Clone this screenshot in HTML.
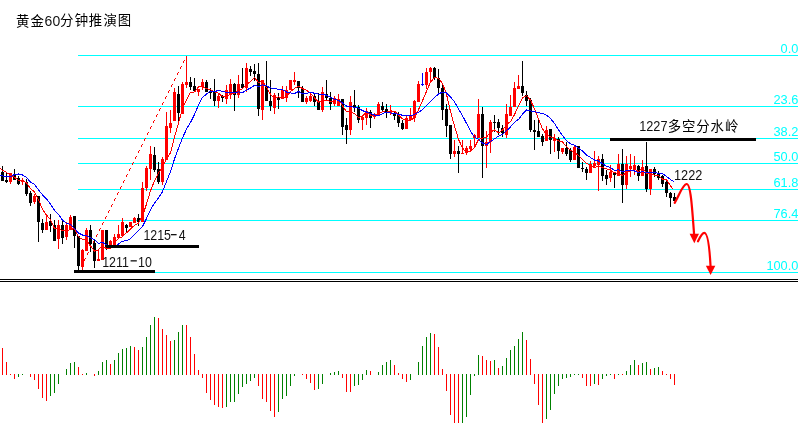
<!DOCTYPE html>
<html><head><meta charset="utf-8"><title>黄金60分钟推演图</title>
<style>html,body{margin:0;padding:0;background:#fff;overflow:hidden}svg{display:block}body{font-family:"Liberation Sans",sans-serif}</style>
</head><body>
<svg width="798" height="423" viewBox="0 0 798 423" role="img" aria-label="黄金60分钟推演图 1227多空分水岭">
<rect width="798" height="423" fill="#fff"/>
<g fill="#00ffff" shape-rendering="crispEdges">
<rect x="78" y="55" width="720" height="1"/>
<rect x="78" y="106" width="720" height="1"/>
<rect x="78" y="138" width="720" height="1"/>
<rect x="78" y="163" width="720" height="1"/>
<rect x="78" y="189" width="720" height="1"/>
<rect x="78" y="220" width="720" height="1"/>
<rect x="78" y="272" width="720" height="1"/>
</g>
<g fill="#00ffff" font-family="'Liberation Sans', sans-serif" font-size="13px" text-anchor="end" style="will-change:transform">
<text transform="translate(798.4,53) scale(0.985,1.05)">0.0</text>
<text transform="translate(798.4,104) scale(0.985,1.05)">23.6</text>
<text transform="translate(798.4,136) scale(0.985,1.05)">38.2</text>
<text transform="translate(798.4,161) scale(0.985,1.05)">50.0</text>
<text transform="translate(798.4,187) scale(0.985,1.05)">61.8</text>
<text transform="translate(798.4,218) scale(0.985,1.05)">76.4</text>
<text transform="translate(798.4,270) scale(0.985,1.05)">100.0</text>
</g>
<g fill="#000" shape-rendering="crispEdges"><rect x="0" y="279" width="798" height="1"/><rect x="0" y="281" width="798" height="1"/></g>
<g fill="#ff0000" shape-rendering="crispEdges"><rect x="186" y="56" width="1" height="1"/><rect x="184" y="60" width="1" height="1"/><rect x="183" y="61" width="1" height="1"/><rect x="183" y="62" width="1" height="1"/><rect x="181" y="66" width="1" height="1"/><rect x="180" y="67" width="1" height="1"/><rect x="180" y="68" width="1" height="1"/><rect x="178" y="72" width="1" height="1"/><rect x="177" y="73" width="1" height="1"/><rect x="177" y="74" width="1" height="1"/><rect x="175" y="78" width="1" height="1"/><rect x="174" y="79" width="1" height="1"/><rect x="174" y="80" width="1" height="1"/><rect x="172" y="84" width="1" height="1"/><rect x="171" y="85" width="1" height="1"/><rect x="171" y="86" width="1" height="1"/><rect x="169" y="90" width="1" height="1"/><rect x="168" y="91" width="1" height="1"/><rect x="168" y="92" width="1" height="1"/><rect x="166" y="96" width="1" height="1"/><rect x="165" y="97" width="1" height="1"/><rect x="165" y="98" width="1" height="1"/><rect x="163" y="102" width="1" height="1"/><rect x="162" y="103" width="1" height="1"/><rect x="162" y="104" width="1" height="1"/><rect x="160" y="108" width="1" height="1"/><rect x="159" y="109" width="1" height="1"/><rect x="159" y="110" width="1" height="1"/><rect x="157" y="114" width="1" height="1"/><rect x="156" y="115" width="1" height="1"/><rect x="156" y="116" width="1" height="1"/><rect x="154" y="120" width="1" height="1"/><rect x="153" y="121" width="1" height="1"/><rect x="153" y="122" width="1" height="1"/><rect x="151" y="126" width="1" height="1"/><rect x="150" y="127" width="1" height="1"/><rect x="150" y="128" width="1" height="1"/><rect x="148" y="132" width="1" height="1"/><rect x="147" y="133" width="1" height="1"/><rect x="147" y="134" width="1" height="1"/><rect x="145" y="138" width="1" height="1"/><rect x="144" y="139" width="1" height="1"/><rect x="144" y="140" width="1" height="1"/><rect x="142" y="144" width="1" height="1"/><rect x="141" y="145" width="1" height="1"/><rect x="141" y="146" width="1" height="1"/><rect x="139" y="150" width="1" height="1"/><rect x="138" y="151" width="1" height="1"/><rect x="138" y="152" width="1" height="1"/><rect x="136" y="156" width="1" height="1"/><rect x="135" y="157" width="1" height="1"/><rect x="135" y="158" width="1" height="1"/><rect x="133" y="162" width="1" height="1"/><rect x="132" y="163" width="1" height="1"/><rect x="132" y="164" width="1" height="1"/><rect x="130" y="168" width="1" height="1"/><rect x="129" y="169" width="1" height="1"/><rect x="129" y="170" width="1" height="1"/><rect x="127" y="174" width="1" height="1"/><rect x="126" y="175" width="1" height="1"/><rect x="126" y="176" width="1" height="1"/><rect x="124" y="180" width="1" height="1"/><rect x="123" y="181" width="1" height="1"/><rect x="123" y="182" width="1" height="1"/><rect x="121" y="186" width="1" height="1"/><rect x="120" y="187" width="1" height="1"/><rect x="120" y="188" width="1" height="1"/><rect x="118" y="192" width="1" height="1"/><rect x="117" y="193" width="1" height="1"/><rect x="117" y="194" width="1" height="1"/><rect x="115" y="198" width="1" height="1"/><rect x="114" y="199" width="1" height="1"/><rect x="114" y="200" width="1" height="1"/><rect x="112" y="204" width="1" height="1"/><rect x="111" y="205" width="1" height="1"/><rect x="111" y="206" width="1" height="1"/><rect x="109" y="210" width="1" height="1"/><rect x="108" y="211" width="1" height="1"/><rect x="108" y="212" width="1" height="1"/><rect x="106" y="216" width="1" height="1"/><rect x="105" y="217" width="1" height="1"/><rect x="105" y="218" width="1" height="1"/><rect x="103" y="222" width="1" height="1"/><rect x="102" y="223" width="1" height="1"/><rect x="102" y="224" width="1" height="1"/><rect x="100" y="228" width="1" height="1"/><rect x="99" y="229" width="1" height="1"/><rect x="99" y="230" width="1" height="1"/><rect x="97" y="234" width="1" height="1"/><rect x="96" y="235" width="1" height="1"/><rect x="96" y="236" width="1" height="1"/><rect x="94" y="240" width="1" height="1"/><rect x="93" y="241" width="1" height="1"/><rect x="93" y="242" width="1" height="1"/><rect x="91" y="246" width="1" height="1"/><rect x="90" y="247" width="1" height="1"/><rect x="90" y="248" width="1" height="1"/><rect x="88" y="252" width="1" height="1"/><rect x="87" y="253" width="1" height="1"/><rect x="87" y="254" width="1" height="1"/><rect x="85" y="258" width="1" height="1"/><rect x="84" y="259" width="1" height="1"/><rect x="84" y="260" width="1" height="1"/><rect x="82" y="264" width="1" height="1"/><rect x="81" y="265" width="1" height="1"/><rect x="81" y="266" width="1" height="1"/><rect x="79" y="270" width="1" height="1"/><rect x="78" y="271" width="1" height="1"/></g>
<g shape-rendering="crispEdges"><g fill="#000"><rect x="2" y="166" width="1" height="15"/><rect x="1" y="172" width="3" height="9"/><rect x="6" y="173" width="1" height="10"/><rect x="5" y="180" width="3" height="2"/><rect x="14" y="169" width="1" height="11"/><rect x="13" y="174" width="3" height="6"/><rect x="18" y="176" width="1" height="9"/><rect x="17" y="178" width="3" height="6"/><rect x="26" y="179" width="1" height="17"/><rect x="25" y="182" width="3" height="12"/><rect x="30" y="191" width="1" height="15"/><rect x="29" y="193" width="3" height="10"/><rect x="38" y="196" width="1" height="46"/><rect x="37" y="196" width="3" height="26"/><rect x="42" y="219" width="1" height="14"/><rect x="41" y="223" width="3" height="7"/><rect x="50" y="214" width="1" height="18"/><rect x="49" y="221" width="3" height="5"/><rect x="54" y="220" width="1" height="21"/><rect x="53" y="225" width="3" height="16"/><rect x="62" y="220" width="1" height="24"/><rect x="61" y="225" width="3" height="13"/><rect x="74" y="216" width="1" height="32"/><rect x="73" y="216" width="3" height="20"/><rect x="78" y="236" width="1" height="34"/><rect x="77" y="236" width="3" height="30"/><rect x="90" y="225" width="1" height="27"/><rect x="89" y="230" width="3" height="14"/><rect x="94" y="240" width="1" height="28"/><rect x="93" y="243" width="3" height="18"/><rect x="106" y="230" width="1" height="20"/><rect x="105" y="230" width="3" height="17"/><rect x="126" y="224" width="1" height="9"/><rect x="125" y="225" width="3" height="3"/><rect x="138" y="214" width="1" height="12"/><rect x="137" y="218" width="3" height="4"/><rect x="154" y="147" width="1" height="25"/><rect x="153" y="155" width="3" height="15"/><rect x="158" y="162" width="1" height="22"/><rect x="157" y="169" width="3" height="13"/><rect x="178" y="86" width="1" height="36"/><rect x="177" y="94" width="3" height="19"/><rect x="190" y="77" width="1" height="13"/><rect x="189" y="82" width="3" height="5"/><rect x="194" y="78" width="1" height="13"/><rect x="193" y="86" width="3" height="5"/><rect x="206" y="80" width="1" height="12"/><rect x="205" y="82" width="3" height="10"/><rect x="210" y="88" width="1" height="11"/><rect x="209" y="91" width="3" height="2"/><rect x="214" y="79" width="1" height="27"/><rect x="213" y="91" width="3" height="10"/><rect x="222" y="95" width="1" height="7"/><rect x="221" y="96" width="3" height="2"/><rect x="234" y="83" width="1" height="28"/><rect x="233" y="84" width="3" height="11"/><rect x="242" y="68" width="1" height="20"/><rect x="241" y="84" width="3" height="4"/><rect x="250" y="66" width="1" height="10"/><rect x="249" y="69" width="3" height="3"/><rect x="254" y="64" width="1" height="17"/><rect x="253" y="71" width="3" height="3"/><rect x="258" y="63" width="1" height="53"/><rect x="257" y="74" width="3" height="35"/><rect x="266" y="61" width="1" height="40"/><rect x="265" y="86" width="3" height="15"/><rect x="270" y="80" width="1" height="31"/><rect x="269" y="101" width="3" height="5"/><rect x="278" y="93" width="1" height="16"/><rect x="277" y="97" width="3" height="3"/><rect x="298" y="81" width="1" height="17"/><rect x="297" y="81" width="3" height="7"/><rect x="302" y="86" width="1" height="16"/><rect x="301" y="88" width="3" height="14"/><rect x="314" y="94" width="1" height="12"/><rect x="313" y="96" width="3" height="6"/><rect x="318" y="93" width="1" height="17"/><rect x="317" y="102" width="3" height="8"/><rect x="326" y="80" width="1" height="20"/><rect x="325" y="94" width="3" height="4"/><rect x="330" y="92" width="1" height="18"/><rect x="329" y="98" width="3" height="6"/><rect x="342" y="99" width="1" height="36"/><rect x="341" y="99" width="3" height="28"/><rect x="346" y="118" width="1" height="26"/><rect x="345" y="125" width="3" height="5"/><rect x="354" y="90" width="1" height="22"/><rect x="353" y="105" width="3" height="3"/><rect x="358" y="105" width="1" height="18"/><rect x="357" y="107" width="3" height="13"/><rect x="370" y="110" width="1" height="18"/><rect x="369" y="112" width="3" height="6"/><rect x="382" y="102" width="1" height="10"/><rect x="381" y="106" width="3" height="4"/><rect x="386" y="104" width="1" height="14"/><rect x="385" y="109" width="3" height="4"/><rect x="394" y="112" width="1" height="8"/><rect x="393" y="113" width="3" height="3"/><rect x="398" y="112" width="1" height="15"/><rect x="397" y="115" width="3" height="8"/><rect x="402" y="120" width="1" height="10"/><rect x="401" y="123" width="3" height="6"/><rect x="434" y="67" width="1" height="13"/><rect x="433" y="68" width="3" height="10"/><rect x="438" y="69" width="1" height="24"/><rect x="437" y="78" width="3" height="10"/><rect x="442" y="85" width="1" height="35"/><rect x="441" y="88" width="3" height="22"/><rect x="446" y="104" width="1" height="33"/><rect x="445" y="109" width="3" height="17"/><rect x="450" y="125" width="1" height="34"/><rect x="449" y="125" width="3" height="29"/><rect x="458" y="146" width="1" height="27"/><rect x="457" y="151" width="3" height="3"/><rect x="482" y="107" width="1" height="71"/><rect x="481" y="114" width="3" height="32"/><rect x="494" y="115" width="1" height="17"/><rect x="493" y="122" width="3" height="1"/><rect x="498" y="119" width="1" height="16"/><rect x="497" y="122" width="3" height="6"/><rect x="502" y="125" width="1" height="12"/><rect x="501" y="128" width="3" height="5"/><rect x="522" y="61" width="1" height="35"/><rect x="521" y="86" width="3" height="7"/><rect x="526" y="91" width="1" height="15"/><rect x="525" y="95" width="3" height="6"/><rect x="530" y="98" width="1" height="34"/><rect x="529" y="100" width="3" height="30"/><rect x="534" y="120" width="1" height="30"/><rect x="533" y="130" width="3" height="2"/><rect x="538" y="120" width="1" height="17"/><rect x="537" y="131" width="3" height="6"/><rect x="542" y="134" width="1" height="12"/><rect x="541" y="136" width="3" height="6"/><rect x="550" y="129" width="1" height="25"/><rect x="549" y="129" width="3" height="11"/><rect x="558" y="137" width="1" height="22"/><rect x="557" y="139" width="3" height="12"/><rect x="566" y="142" width="1" height="14"/><rect x="565" y="148" width="3" height="6"/><rect x="570" y="148" width="1" height="14"/><rect x="569" y="150" width="3" height="10"/><rect x="578" y="146" width="1" height="22"/><rect x="577" y="146" width="3" height="22"/><rect x="582" y="162" width="1" height="10"/><rect x="581" y="168" width="3" height="1"/><rect x="586" y="167" width="1" height="13"/><rect x="585" y="169" width="3" height="4"/><rect x="602" y="154" width="1" height="27"/><rect x="601" y="159" width="3" height="17"/><rect x="606" y="170" width="1" height="15"/><rect x="605" y="175" width="3" height="4"/><rect x="614" y="172" width="1" height="16"/><rect x="613" y="173" width="3" height="2"/><rect x="622" y="149" width="1" height="54"/><rect x="621" y="164" width="3" height="21"/><rect x="638" y="165" width="1" height="16"/><rect x="637" y="166" width="3" height="10"/><rect x="646" y="142" width="1" height="50"/><rect x="645" y="166" width="3" height="23"/><rect x="654" y="167" width="1" height="10"/><rect x="653" y="169" width="3" height="5"/><rect x="658" y="171" width="1" height="9"/><rect x="657" y="174" width="3" height="4"/><rect x="662" y="175" width="1" height="12"/><rect x="661" y="176" width="3" height="8"/><rect x="666" y="180" width="1" height="17"/><rect x="665" y="182" width="3" height="11"/><rect x="670" y="192" width="1" height="15"/><rect x="669" y="193" width="3" height="5"/><rect x="674" y="193" width="1" height="8"/><rect x="673" y="197" width="3" height="4"/></g><g fill="#ff0000"><rect x="10" y="173" width="1" height="11"/><rect x="9" y="173" width="3" height="9"/><rect x="22" y="178" width="1" height="7"/><rect x="21" y="180" width="3" height="2"/><rect x="34" y="194" width="1" height="10"/><rect x="33" y="196" width="3" height="6"/><rect x="46" y="216" width="1" height="14"/><rect x="45" y="222" width="3" height="8"/><rect x="58" y="220" width="1" height="29"/><rect x="57" y="225" width="3" height="14"/><rect x="66" y="222" width="1" height="18"/><rect x="65" y="225" width="3" height="12"/><rect x="70" y="215" width="1" height="14"/><rect x="69" y="217" width="3" height="12"/><rect x="82" y="249" width="1" height="21"/><rect x="81" y="250" width="3" height="17"/><rect x="86" y="228" width="1" height="23"/><rect x="85" y="230" width="3" height="21"/><rect x="98" y="250" width="1" height="11"/><rect x="97" y="259" width="3" height="2"/><rect x="102" y="230" width="1" height="30"/><rect x="101" y="230" width="3" height="30"/><rect x="110" y="240" width="1" height="5"/><rect x="109" y="241" width="3" height="4"/><rect x="114" y="234" width="1" height="11"/><rect x="113" y="237" width="3" height="8"/><rect x="118" y="225" width="1" height="13"/><rect x="117" y="234" width="3" height="4"/><rect x="122" y="218" width="1" height="18"/><rect x="121" y="222" width="3" height="14"/><rect x="130" y="222" width="1" height="5"/><rect x="129" y="222" width="3" height="5"/><rect x="134" y="217" width="1" height="6"/><rect x="133" y="218" width="3" height="5"/><rect x="142" y="182" width="1" height="40"/><rect x="141" y="188" width="3" height="34"/><rect x="146" y="166" width="1" height="25"/><rect x="145" y="168" width="3" height="20"/><rect x="150" y="146" width="1" height="34"/><rect x="149" y="154" width="3" height="15"/><rect x="162" y="157" width="1" height="28"/><rect x="161" y="159" width="3" height="23"/><rect x="166" y="112" width="1" height="48"/><rect x="165" y="126" width="3" height="34"/><rect x="170" y="110" width="1" height="23"/><rect x="169" y="123" width="3" height="5"/><rect x="174" y="88" width="1" height="33"/><rect x="173" y="92" width="3" height="29"/><rect x="182" y="82" width="1" height="32"/><rect x="181" y="84" width="3" height="30"/><rect x="186" y="56" width="1" height="32"/><rect x="185" y="82" width="3" height="3"/><rect x="198" y="89" width="1" height="7"/><rect x="197" y="89" width="3" height="3"/><rect x="202" y="79" width="1" height="11"/><rect x="201" y="82" width="3" height="5"/><rect x="218" y="94" width="1" height="14"/><rect x="217" y="96" width="3" height="5"/><rect x="226" y="85" width="1" height="19"/><rect x="225" y="90" width="3" height="9"/><rect x="230" y="79" width="1" height="20"/><rect x="229" y="84" width="3" height="11"/><rect x="238" y="75" width="1" height="23"/><rect x="237" y="84" width="3" height="11"/><rect x="246" y="63" width="1" height="29"/><rect x="245" y="68" width="3" height="20"/><rect x="262" y="80" width="1" height="40"/><rect x="261" y="80" width="3" height="30"/><rect x="274" y="93" width="1" height="21"/><rect x="273" y="95" width="3" height="13"/><rect x="282" y="86" width="1" height="13"/><rect x="281" y="90" width="3" height="9"/><rect x="286" y="86" width="1" height="16"/><rect x="285" y="90" width="3" height="8"/><rect x="290" y="80" width="1" height="10"/><rect x="289" y="80" width="3" height="10"/><rect x="294" y="72" width="1" height="13"/><rect x="293" y="80" width="3" height="2"/><rect x="306" y="96" width="1" height="8"/><rect x="305" y="98" width="3" height="4"/><rect x="310" y="94" width="1" height="8"/><rect x="309" y="96" width="3" height="5"/><rect x="322" y="87" width="1" height="25"/><rect x="321" y="92" width="3" height="18"/><rect x="334" y="96" width="1" height="10"/><rect x="333" y="98" width="3" height="6"/><rect x="338" y="94" width="1" height="12"/><rect x="337" y="99" width="3" height="7"/><rect x="350" y="96" width="1" height="39"/><rect x="349" y="102" width="3" height="28"/><rect x="362" y="116" width="1" height="14"/><rect x="361" y="117" width="3" height="3"/><rect x="366" y="108" width="1" height="17"/><rect x="365" y="111" width="3" height="7"/><rect x="374" y="113" width="1" height="6"/><rect x="373" y="114" width="3" height="3"/><rect x="378" y="102" width="1" height="13"/><rect x="377" y="104" width="3" height="11"/><rect x="390" y="105" width="1" height="10"/><rect x="389" y="111" width="3" height="2"/><rect x="406" y="116" width="1" height="13"/><rect x="405" y="118" width="3" height="11"/><rect x="410" y="108" width="1" height="12"/><rect x="409" y="115" width="3" height="5"/><rect x="414" y="100" width="1" height="22"/><rect x="413" y="101" width="3" height="17"/><rect x="418" y="81" width="1" height="21"/><rect x="417" y="84" width="3" height="18"/><rect x="426" y="68" width="1" height="21"/><rect x="425" y="72" width="3" height="13"/><rect x="430" y="67" width="1" height="15"/><rect x="429" y="68" width="3" height="4"/><rect x="454" y="140" width="1" height="17"/><rect x="453" y="151" width="3" height="3"/><rect x="462" y="140" width="1" height="14"/><rect x="461" y="153" width="3" height="1"/><rect x="466" y="146" width="1" height="9"/><rect x="465" y="148" width="3" height="5"/><rect x="470" y="140" width="1" height="12"/><rect x="469" y="146" width="3" height="3"/><rect x="474" y="134" width="1" height="13"/><rect x="473" y="135" width="3" height="3"/><rect x="478" y="99" width="1" height="39"/><rect x="477" y="114" width="3" height="24"/><rect x="486" y="131" width="1" height="37"/><rect x="485" y="142" width="3" height="4"/><rect x="490" y="120" width="1" height="33"/><rect x="489" y="122" width="3" height="20"/><rect x="506" y="104" width="1" height="34"/><rect x="505" y="114" width="3" height="21"/><rect x="510" y="95" width="1" height="21"/><rect x="509" y="107" width="3" height="9"/><rect x="514" y="82" width="1" height="25"/><rect x="513" y="88" width="3" height="19"/><rect x="518" y="75" width="1" height="14"/><rect x="517" y="86" width="3" height="3"/><rect x="546" y="126" width="1" height="15"/><rect x="545" y="130" width="3" height="11"/><rect x="554" y="134" width="1" height="18"/><rect x="553" y="138" width="3" height="3"/><rect x="562" y="148" width="1" height="6"/><rect x="561" y="148" width="3" height="4"/><rect x="574" y="145" width="1" height="15"/><rect x="573" y="147" width="3" height="13"/><rect x="590" y="161" width="1" height="12"/><rect x="589" y="164" width="3" height="9"/><rect x="594" y="151" width="1" height="17"/><rect x="593" y="163" width="3" height="3"/><rect x="598" y="156" width="1" height="35"/><rect x="597" y="159" width="3" height="6"/><rect x="610" y="165" width="1" height="17"/><rect x="609" y="172" width="3" height="6"/><rect x="618" y="154" width="1" height="22"/><rect x="617" y="164" width="3" height="12"/><rect x="626" y="156" width="1" height="33"/><rect x="625" y="164" width="3" height="21"/><rect x="630" y="154" width="1" height="23"/><rect x="629" y="166" width="3" height="3"/><rect x="634" y="156" width="1" height="19"/><rect x="633" y="165" width="3" height="5"/><rect x="642" y="160" width="1" height="16"/><rect x="641" y="167" width="3" height="9"/><rect x="650" y="169" width="1" height="26"/><rect x="649" y="169" width="3" height="20"/></g></g>
<g fill="#0000ff" shape-rendering="crispEdges"><rect x="422" y="73" width="1" height="13"/><rect x="421" y="84" width="3" height="1"/></g>
<polyline fill="none" stroke="#ff0000" stroke-width="1" shape-rendering="crispEdges" points="0.0,168.5 2.5,170.2 6.5,172.5 10.5,174.8 14.5,177.1 18.5,180.4 22.5,180.3 26.5,182.8 30.5,188.7 34.5,191.9 38.5,199.6 42.5,209.5 46.5,215.1 50.5,219.7 54.5,228.7 58.5,229.2 62.5,230.7 66.5,231.3 70.5,229.5 74.5,228.5 78.5,236.8 82.5,239.4 86.5,240.5 90.5,246.1 94.5,251.2 98.5,249.7 102.5,245.6 106.5,248.9 110.5,248.1 114.5,243.2 118.5,238.2 122.5,236.7 126.5,232.8 130.5,229.0 134.5,225.3 138.5,223.0 142.5,216.0 146.5,204.1 150.5,190.7 154.5,181.0 158.5,173.0 162.5,167.3 166.5,158.9 170.5,152.6 174.5,137.1 178.5,123.2 182.5,108.2 186.5,99.6 190.5,92.3 194.5,92.0 198.5,87.0 202.5,86.6 206.5,88.6 210.5,89.9 214.5,91.9 218.5,93.3 222.5,96.5 226.5,96.0 230.5,94.2 234.5,93.0 238.5,90.6 242.5,88.6 246.5,84.2 250.5,81.8 254.5,77.5 258.5,82.5 262.5,80.9 266.5,87.5 270.5,94.3 274.5,98.6 278.5,96.8 282.5,98.7 286.5,96.5 290.5,91.5 294.5,88.5 298.5,86.2 302.5,88.6 306.5,90.3 310.5,93.4 314.5,97.8 318.5,102.2 322.5,100.2 326.5,100.1 330.5,101.6 334.5,100.8 338.5,98.6 342.5,105.6 346.5,112.0 350.5,111.8 354.5,113.6 358.5,117.8 362.5,115.8 366.5,112.0 370.5,115.0 374.5,116.3 378.5,113.2 382.5,111.8 386.5,112.2 390.5,110.9 394.5,111.2 398.5,115.1 402.5,118.9 406.5,119.8 410.5,120.6 414.5,117.6 418.5,109.7 422.5,100.6 426.5,91.5 430.5,82.1 434.5,77.4 438.5,78.3 442.5,83.5 446.5,94.2 450.5,111.5 454.5,126.2 458.5,139.3 462.5,148.0 466.5,152.5 470.5,150.8 474.5,147.6 478.5,139.6 482.5,138.1 486.5,137.0 490.5,132.2 494.5,129.9 498.5,132.8 502.5,130.3 506.5,124.6 510.5,121.6 514.5,114.6 518.5,106.1 522.5,98.1 526.5,95.5 530.5,100.1 534.5,108.8 538.5,119.0 542.5,128.9 546.5,134.7 550.5,136.8 554.5,138.1 558.5,140.9 562.5,142.0 566.5,146.7 570.5,150.5 574.5,152.3 578.5,155.6 582.5,159.8 586.5,163.7 590.5,164.5 594.5,167.8 598.5,166.1 602.5,167.6 606.5,168.6 610.5,170.4 614.5,172.7 618.5,173.7 622.5,175.4 626.5,172.5 630.5,171.1 634.5,169.2 638.5,171.6 642.5,168.0 646.5,173.0 650.5,173.5 654.5,175.3 658.5,175.7 662.5,179.0 666.5,179.9 670.5,185.7 672.7,188.6"/>
<polyline fill="none" stroke="#0000ff" stroke-width="1" shape-rendering="crispEdges" points="0.0,175.3 2.5,175.8 6.5,177.0 10.5,176.7 14.5,174.5 18.5,174.0 22.5,175.0 26.5,177.5 30.5,182.0 34.5,184.5 38.5,190.0 42.5,194.9 46.5,198.9 50.5,204.2 54.5,210.3 58.5,214.4 62.5,220.1 66.5,223.2 70.5,224.6 74.5,228.6 78.5,233.0 82.5,235.0 86.5,235.9 90.5,237.8 94.5,239.8 98.5,243.2 102.5,242.5 106.5,244.7 110.5,247.1 114.5,247.2 118.5,243.9 122.5,241.1 126.5,240.8 130.5,238.6 134.5,234.3 138.5,230.6 142.5,226.4 146.5,218.5 150.5,209.8 154.5,203.2 158.5,198.0 162.5,191.7 166.5,181.5 170.5,171.6 174.5,159.0 178.5,148.1 182.5,137.8 186.5,129.2 190.5,122.4 194.5,114.5 198.5,105.1 202.5,97.4 206.5,94.1 210.5,91.1 214.5,91.9 218.5,90.2 222.5,91.6 226.5,92.3 230.5,92.1 234.5,92.5 238.5,92.0 242.5,92.6 246.5,90.1 250.5,88.0 254.5,85.3 258.5,86.6 262.5,84.8 266.5,85.9 270.5,88.0 274.5,88.1 278.5,89.7 282.5,89.8 286.5,92.0 290.5,92.9 294.5,93.6 298.5,91.5 302.5,93.7 306.5,93.4 310.5,92.4 314.5,93.2 318.5,94.2 322.5,94.4 326.5,95.2 330.5,97.5 334.5,99.3 338.5,100.4 342.5,102.9 346.5,106.0 350.5,106.7 354.5,107.2 358.5,108.2 362.5,110.7 366.5,112.0 370.5,113.4 374.5,115.0 378.5,115.5 382.5,113.8 386.5,112.1 390.5,112.9 394.5,113.8 398.5,114.1 402.5,115.3 406.5,116.0 410.5,115.7 414.5,114.4 418.5,112.4 422.5,109.8 426.5,105.7 430.5,101.3 434.5,97.5 438.5,94.0 442.5,92.1 446.5,92.9 450.5,96.8 454.5,101.8 458.5,108.8 462.5,115.8 466.5,123.3 470.5,131.2 474.5,136.9 478.5,139.5 482.5,143.1 486.5,144.8 490.5,141.5 494.5,138.8 498.5,136.2 502.5,134.2 506.5,130.8 510.5,126.9 514.5,122.3 518.5,119.4 522.5,114.2 526.5,110.0 530.5,110.8 534.5,111.7 538.5,112.6 542.5,113.5 546.5,115.1 550.5,118.5 554.5,123.4 558.5,129.9 562.5,135.4 566.5,140.7 570.5,143.7 574.5,145.2 578.5,148.2 582.5,150.9 586.5,155.2 590.5,157.5 594.5,160.0 598.5,160.9 602.5,163.7 606.5,166.2 610.5,167.5 614.5,170.3 618.5,169.9 622.5,171.5 626.5,170.6 630.5,170.8 634.5,171.0 638.5,172.7 642.5,171.7 646.5,172.7 650.5,172.3 654.5,172.2 658.5,173.7 662.5,173.5 666.5,176.4 670.5,179.6 674.0,181.8"/>
<g fill="#000" shape-rendering="crispEdges"><rect x="74" y="270" width="81" height="3"/><rect x="106" y="245" width="93" height="3"/><rect x="610" y="138" width="146" height="3"/></g>
<g fill="#111" font-family="'Liberation Sans', sans-serif" style="will-change:transform">
<text transform="translate(102.2,266.5) scale(0.955,1.07)" font-size="13px">1211</text>
<text transform="translate(138,266.5) scale(0.955,1.07)" font-size="13px">10</text>
<text transform="translate(143.4,240.2) scale(0.955,1.07)" font-size="13px">1215</text>
<text transform="translate(178.8,240.2) scale(0.955,1.07)" font-size="13px">4</text>
<text transform="translate(674,180) scale(0.98,1.07)" font-size="13px">1222</text>
<text transform="translate(639.2,130.7) scale(0.98,1.07)" font-size="13px">1227</text>
<text transform="translate(44.6,25.9) scale(1,1.02)" font-size="14px">60</text>
<rect x="130.6" y="260.2" width="6.2" height="1.3"/><rect x="170.9" y="234" width="5.7" height="1.3"/>
</g>
<g fill="#000" font-family="'Liberation Sans', 'Noto Sans CJK SC', sans-serif" font-size="13.4px">
<text x="15.9 30.5" y="25.6">黄金</text>
<text x="59.9 74.7 88.8 103.5 117.7" y="25.4">分钟推演图</text>
<text x="667.7 682 696.2 710.4 725" y="130.8">多空分水岭</text>
</g>
<g fill="none" stroke="#ff0000" stroke-width="2.2" stroke-linecap="round" stroke-linejoin="round">
<path d="M674.7 202.8 C679 196 682.5 184.5 686.6 184 C690.5 183.6 692 205 694.2 236"/>
<path d="M698 241.3 C700 237 702 232.8 704.3 232.8 C708 232.8 709.6 248 710.6 267"/>
</g>
<g fill="#ff0000"><polygon points="689.6,233.8 699,233.8 694.3,243.3"/><polygon points="705.9,265.8 715.3,265.8 710.6,275"/></g>
<g shape-rendering="crispEdges"><g fill="#ff0000"><rect x="2" y="348" width="1" height="27"/><rect x="6" y="362" width="1" height="13"/><rect x="10" y="374" width="1" height="1"/><rect x="14" y="374" width="1" height="5"/><rect x="30" y="374" width="1" height="3"/><rect x="34" y="374" width="1" height="6"/><rect x="38" y="374" width="1" height="15"/><rect x="42" y="374" width="1" height="24"/><rect x="46" y="374" width="1" height="27"/><rect x="78" y="367" width="1" height="8"/><rect x="82" y="374" width="1" height="1"/><rect x="94" y="374" width="1" height="2"/><rect x="110" y="364" width="1" height="11"/><rect x="134" y="347" width="1" height="28"/><rect x="138" y="350" width="1" height="25"/><rect x="158" y="318" width="1" height="57"/><rect x="162" y="329" width="1" height="46"/><rect x="166" y="335" width="1" height="40"/><rect x="170" y="341" width="1" height="34"/><rect x="186" y="325" width="1" height="50"/><rect x="190" y="337" width="1" height="38"/><rect x="194" y="354" width="1" height="21"/><rect x="198" y="370" width="1" height="5"/><rect x="202" y="374" width="1" height="4"/><rect x="206" y="374" width="1" height="19"/><rect x="210" y="374" width="1" height="26"/><rect x="214" y="374" width="1" height="31"/><rect x="218" y="374" width="1" height="33"/><rect x="222" y="374" width="1" height="34"/><rect x="258" y="374" width="1" height="12"/><rect x="262" y="374" width="1" height="25"/><rect x="266" y="374" width="1" height="28"/><rect x="270" y="374" width="1" height="37"/><rect x="274" y="374" width="1" height="43"/><rect x="302" y="374" width="1" height="1"/><rect x="306" y="374" width="1" height="5"/><rect x="310" y="374" width="1" height="9"/><rect x="314" y="374" width="1" height="16"/><rect x="342" y="374" width="1" height="4"/><rect x="346" y="374" width="1" height="18"/><rect x="350" y="374" width="1" height="18"/><rect x="370" y="371" width="1" height="4"/><rect x="394" y="365" width="1" height="10"/><rect x="398" y="373" width="1" height="2"/><rect x="402" y="374" width="1" height="5"/><rect x="406" y="374" width="1" height="8"/><rect x="434" y="334" width="1" height="41"/><rect x="438" y="347" width="1" height="28"/><rect x="442" y="369" width="1" height="6"/><rect x="446" y="374" width="1" height="17"/><rect x="450" y="374" width="1" height="41"/><rect x="454" y="374" width="1" height="49"/><rect x="458" y="374" width="1" height="49"/><rect x="482" y="356" width="1" height="19"/><rect x="486" y="360" width="1" height="15"/><rect x="490" y="361" width="1" height="14"/><rect x="498" y="368" width="1" height="7"/><rect x="526" y="340" width="1" height="35"/><rect x="530" y="359" width="1" height="16"/><rect x="534" y="374" width="1" height="10"/><rect x="538" y="374" width="1" height="31"/><rect x="542" y="374" width="1" height="49"/><rect x="582" y="374" width="1" height="4"/><rect x="586" y="374" width="1" height="12"/><rect x="590" y="374" width="1" height="12"/><rect x="598" y="374" width="1" height="11"/><rect x="614" y="374" width="1" height="5"/><rect x="622" y="374" width="1" height="1"/><rect x="638" y="365" width="1" height="10"/><rect x="650" y="369" width="1" height="6"/><rect x="662" y="371" width="1" height="4"/><rect x="666" y="374" width="1" height="1"/><rect x="670" y="374" width="1" height="5"/><rect x="674" y="374" width="1" height="11"/></g><g fill="#008000"><rect x="18" y="374" width="1" height="3"/><rect x="22" y="374" width="1" height="1"/><rect x="50" y="374" width="1" height="22"/><rect x="54" y="374" width="1" height="19"/><rect x="58" y="374" width="1" height="10"/><rect x="66" y="369" width="1" height="6"/><rect x="70" y="363" width="1" height="12"/><rect x="74" y="362" width="1" height="13"/><rect x="86" y="373" width="1" height="2"/><rect x="98" y="371" width="1" height="4"/><rect x="102" y="362" width="1" height="13"/><rect x="106" y="360" width="1" height="15"/><rect x="114" y="360" width="1" height="15"/><rect x="118" y="353" width="1" height="22"/><rect x="122" y="349" width="1" height="26"/><rect x="126" y="348" width="1" height="27"/><rect x="130" y="346" width="1" height="29"/><rect x="142" y="347" width="1" height="28"/><rect x="146" y="337" width="1" height="38"/><rect x="150" y="325" width="1" height="50"/><rect x="154" y="317" width="1" height="58"/><rect x="174" y="340" width="1" height="35"/><rect x="178" y="332" width="1" height="43"/><rect x="182" y="325" width="1" height="50"/><rect x="226" y="374" width="1" height="33"/><rect x="230" y="374" width="1" height="28"/><rect x="234" y="374" width="1" height="28"/><rect x="238" y="374" width="1" height="20"/><rect x="242" y="374" width="1" height="13"/><rect x="246" y="374" width="1" height="10"/><rect x="250" y="374" width="1" height="7"/><rect x="254" y="374" width="1" height="4"/><rect x="278" y="374" width="1" height="38"/><rect x="282" y="374" width="1" height="25"/><rect x="286" y="374" width="1" height="22"/><rect x="290" y="374" width="1" height="12"/><rect x="294" y="374" width="1" height="2"/><rect x="318" y="374" width="1" height="15"/><rect x="322" y="374" width="1" height="10"/><rect x="330" y="373" width="1" height="2"/><rect x="334" y="372" width="1" height="3"/><rect x="338" y="371" width="1" height="4"/><rect x="354" y="374" width="1" height="12"/><rect x="358" y="374" width="1" height="11"/><rect x="362" y="374" width="1" height="6"/><rect x="366" y="370" width="1" height="5"/><rect x="378" y="372" width="1" height="3"/><rect x="382" y="365" width="1" height="10"/><rect x="386" y="362" width="1" height="13"/><rect x="390" y="360" width="1" height="15"/><rect x="410" y="374" width="1" height="6"/><rect x="418" y="362" width="1" height="13"/><rect x="422" y="346" width="1" height="29"/><rect x="426" y="337" width="1" height="38"/><rect x="430" y="333" width="1" height="42"/><rect x="462" y="374" width="1" height="49"/><rect x="466" y="374" width="1" height="43"/><rect x="470" y="374" width="1" height="21"/><rect x="474" y="374" width="1" height="2"/><rect x="478" y="355" width="1" height="20"/><rect x="494" y="360" width="1" height="15"/><rect x="502" y="366" width="1" height="9"/><rect x="506" y="358" width="1" height="17"/><rect x="510" y="350" width="1" height="25"/><rect x="514" y="346" width="1" height="29"/><rect x="518" y="339" width="1" height="36"/><rect x="522" y="332" width="1" height="43"/><rect x="546" y="374" width="1" height="45"/><rect x="550" y="374" width="1" height="36"/><rect x="554" y="374" width="1" height="20"/><rect x="558" y="374" width="1" height="12"/><rect x="562" y="374" width="1" height="5"/><rect x="566" y="374" width="1" height="4"/><rect x="570" y="374" width="1" height="3"/><rect x="574" y="374" width="1" height="1"/><rect x="578" y="374" width="1" height="1"/><rect x="594" y="374" width="1" height="10"/><rect x="602" y="374" width="1" height="5"/><rect x="606" y="374" width="1" height="2"/><rect x="610" y="374" width="1" height="1"/><rect x="618" y="374" width="1" height="1"/><rect x="626" y="371" width="1" height="4"/><rect x="630" y="365" width="1" height="10"/><rect x="634" y="360" width="1" height="15"/><rect x="642" y="363" width="1" height="12"/><rect x="646" y="362" width="1" height="13"/><rect x="654" y="368" width="1" height="7"/><rect x="658" y="367" width="1" height="8"/></g></g>
</svg>
</body></html>
